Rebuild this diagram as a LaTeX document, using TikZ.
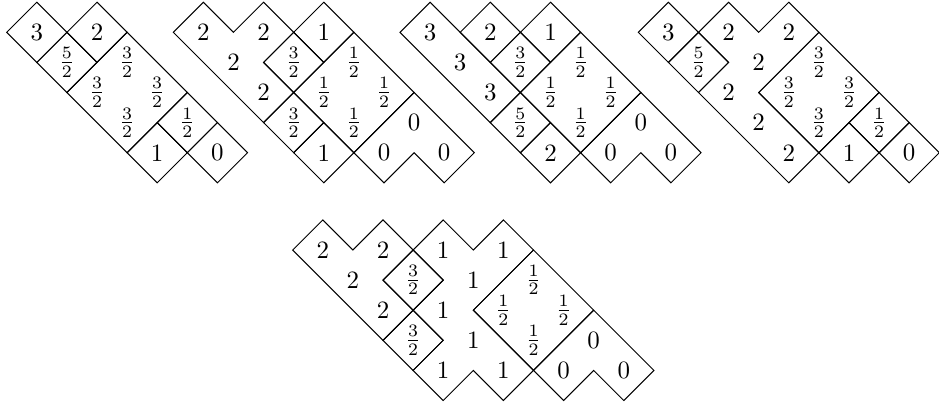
\documentclass[tikz,border=0pt]{standalone}
\usetikzlibrary{positioning}
\newcommand{\halfof}[1]{$\frac{#1}{2}$}

\begin{document}
\begin{tikzpicture}[
x=0.4243cm, y=-0.4243cm,
every node/.style={inner sep=0pt, font=\normalsize},
region/.style={draw=black, line width=0.4pt, line join=miter},
onecell/.pic={\draw[region] (-1,0) -- (0,-1) -- (1,0) -- (0,1) -- cycle;},
fourcell/.pic={\draw[region] (-2,0) -- (0,-2) -- (2,0) -- (0,2) -- cycle;}
]
\useasboundingbox (0,0) rectangle (31.196,13.355);

% first array
\begin{scope}[shift={(1.223,1.073)}]
\foreach \p in {(0,0),(2,0),(1,1),(5,3),(4,4),(6,4)} \pic at \p {onecell};
\pic at (3,2) {fourcell};
\foreach \u/\v/\t in {0/0/3, 2/0/2, 1/1/{\halfof5}, 3/1/{\halfof3}, 2/2/{\halfof3}, 4/2/{\halfof3},
  3/3/{\halfof3}, 5/3/{\halfof1}, 4/4/1, 6/4/0}
  \node (pa-\u-\v) at (\u,\v) {\t};
\end{scope}

% second array
\begin{scope}[shift={(6.757,1.073)}]
\draw[region] (-1,0) -- (0,-1) -- (1,0) -- (2,-1) -- (3,0) -- (2,1) -- (3,2) -- (2,3) -- cycle;
\foreach \p in {(4,0),(3,1),(3,3),(4,4)} \pic at \p {onecell};
\pic at (5,2) {fourcell};
\draw[region] (5,4) -- (7,2) -- (9,4) -- (8,5) -- (7,4) -- (6,5) -- cycle;
\foreach \u/\v/\t in {0/0/2, 2/0/2, 4/0/1, 1/1/2, 3/1/{\halfof3}, 5/1/{\halfof1}, 2/2/2, 4/2/{\halfof1},
  6/2/{\halfof1}, 3/3/{\halfof3}, 5/3/{\halfof1}, 7/3/0, 4/4/1, 6/4/0, 8/4/0}
  \node (pb-\u-\v) at (\u,\v) {\t};
\end{scope}

% third array
\begin{scope}[shift={(14.289,1.073)}]
\draw[region] (-1,0) -- (0,-1) -- (3,2) -- (2,3) -- cycle;
\foreach \p in {(2,0),(4,0),(3,1),(3,3),(4,4)} \pic at \p {onecell};
\pic at (5,2) {fourcell};
\draw[region] (5,4) -- (7,2) -- (9,4) -- (8,5) -- (7,4) -- (6,5) -- cycle;
\foreach \u/\v/\t in {0/0/3, 2/0/2, 4/0/1, 1/1/3, 3/1/{\halfof3}, 5/1/{\halfof1}, 2/2/3, 4/2/{\halfof1},
  6/2/{\halfof1}, 3/3/{\halfof5}, 5/3/{\halfof1}, 7/3/0, 4/4/2, 6/4/0, 8/4/0}
  \node (pc-\u-\v) at (\u,\v) {\t};
\end{scope}

% fourth array
\begin{scope}[shift={(22.206,1.073)}]
\foreach \p in {(0,0),(1,1),(7,3),(6,4),(8,4)} \pic at \p {onecell};
\draw[region] (1,0) -- (2,-1) -- (3,0) -- (4,-1) -- (5,0) -- (3,2) -- (5,4) -- (4,5) -- (1,2) -- (2,1) -- cycle;
\pic at (5,2) {fourcell};
\foreach \u/\v/\t in {0/0/3, 2/0/2, 4/0/2, 1/1/{\halfof5}, 3/1/2, 5/1/{\halfof3}, 2/2/2, 4/2/{\halfof3},
  6/2/{\halfof3}, 3/3/2, 5/3/{\halfof3}, 7/3/{\halfof1}, 4/4/2, 6/4/1, 8/4/0}
  \node (pd-\u-\v) at (\u,\v) {\t};
\end{scope}

% fifth array
\begin{scope}[shift={(10.724,8.306)}]
\draw[region] (-1,0) -- (0,-1) -- (1,0) -- (2,-1) -- (3,0) -- (2,1) -- (3,2) -- (2,3) -- cycle;
\foreach \p in {(3,1),(3,3)} \pic at \p {onecell};
\draw[region] (3,0) -- (4,-1) -- (5,0) -- (6,-1) -- (7,0) -- (5,2) -- (7,4) -- (6,5) -- (5,4) -- (4,5)
  -- (3,4) -- (4,3) -- (3,2) -- (4,1) -- cycle;
\pic at (7,2) {fourcell};
\draw[region] (7,4) -- (9,2) -- (11,4) -- (10,5) -- (9,4) -- (8,5) -- cycle;
\foreach \u/\v/\t in {0/0/2, 2/0/2, 4/0/1, 6/0/1, 1/1/2, 3/1/{\halfof3}, 5/1/1, 7/1/{\halfof1},
  2/2/2, 4/2/1, 6/2/{\halfof1}, 8/2/{\halfof1}, 3/3/{\halfof3}, 5/3/1, 7/3/{\halfof1}, 9/3/0,
  4/4/1, 6/4/1, 8/4/0, 10/4/0}
  \node (pe-\u-\v) at (\u,\v) {\t};
\end{scope}
\end{tikzpicture}
\end{document}
